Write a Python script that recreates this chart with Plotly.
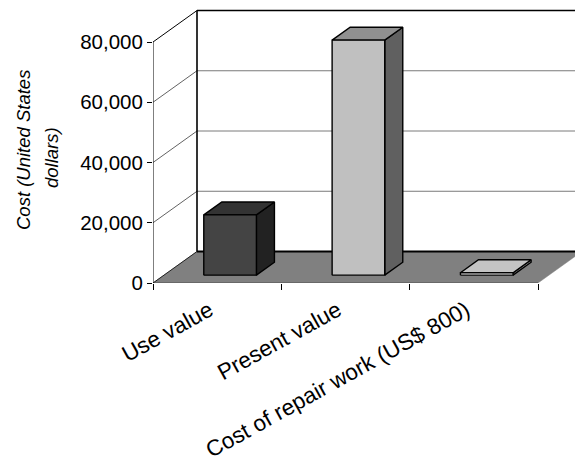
import plotly.graph_objects as go

# Chart data
categories = ["Use value", "Present value", "Cost of repair work (US$ 800)"]
costs = [20000, 78000, 800]
y_ticks = [0, 20000, 40000, 60000, 80000]
y_title_lines = ["Cost (United States", "dollars)"]

# Bar face colours (front, top, side)
front_colors = ["#444444", "#c0c0c0", "#f4f4f4"]
top_colors = ["#333333", "#909090", "#c4c4c4"]
side_colors = ["#222222", "#606060", "#909090"]

# Oblique projection: one unit of depth shifts by (DX, DY) in data units
W, H = 575, 474
M_L, M_R, M_T, M_B = 153, 0, 0, 191
PX_PER_CAT = 385 / 3
PX_PER_VAL = 241 / 80000
X_MAX = (W - M_L - M_R) / PX_PER_CAT
Y_MAX = (H - M_T - M_B) / PX_PER_VAL
DX = 44 / PX_PER_CAT
DY = 31.5 / PX_PER_VAL
N = len(categories)
TOP = y_ticks[-1]

# bar footprint within each category slot (front-plane units, depth fraction)
BAR_X0, BAR_W = 0.31, 0.41
D0, D1 = 0.25, 0.66


def proj(x, y, d):
    return x + d * DX, y + d * DY


def poly(points):
    xs = [p[0] for p in points] + [points[0][0]]
    ys = [p[1] for p in points] + [points[0][1]]
    return xs, ys


fig = go.Figure()


def add_line(p0, p1, color, width):
    fig.add_trace(go.Scatter(x=[p0[0], p1[0]], y=[p0[1], p1[1]], mode="lines",
                             line=dict(color=color, width=width),
                             hoverinfo="skip", showlegend=False))


def add_face(points, fill, edge="#000000", width=1.4):
    xs, ys = poly(points)
    fig.add_trace(go.Scatter(x=xs, y=ys, mode="lines", fill="toself",
                             fillcolor=fill, line=dict(color=edge, width=width),
                             hoverinfo="skip", showlegend=False))


# gridlines: side wall diagonals and back wall horizontals
for g in y_ticks[1:-1]:
    add_line(proj(0, g, 0), proj(0, g, 1), "#3a3a3a", 0.8)
    add_line(proj(0, g, 1), proj(N + 1, g, 1), "#7a7a7a", 1)

# floor
add_face([proj(0, 0, 0), proj(N, 0, 0), proj(N, 0, 1), proj(0, 0, 1)],
         "#808080", edge="#808080", width=0.5)
add_line(proj(0, 0, 0), proj(N, 0, 0), "#505050", 1)
add_line(proj(0, 0, 1), proj(N + 1, 0, 1), "#000000", 2.2)
add_line(proj(0, 0, 0), proj(0, 0, 1), "#202020", 1)

# walls outline
add_line(proj(0, 0, 0), proj(0, TOP, 0), "#000000", 1)
add_line(proj(0, TOP, 0), proj(0, TOP, 1), "#000000", 1)
add_line(proj(0, 0, 1), proj(0, TOP, 1), "#000000", 1.6)
add_line(proj(0, TOP, 1), proj(N + 1, TOP, 1), "#000000", 1.6)

# bars
for i, v in enumerate(costs):
    x0 = i + BAR_X0
    x1 = x0 + BAR_W
    add_face([proj(x1, 0, D0), proj(x1, 0, D1), proj(x1, v, D1), proj(x1, v, D0)],
             side_colors[i])
    add_face([proj(x0, v, D0), proj(x1, v, D0), proj(x1, v, D1), proj(x0, v, D1)],
             top_colors[i])
    add_face([proj(x0, 0, D0), proj(x1, 0, D0), proj(x1, v, D0), proj(x0, v, D0)],
             front_colors[i])

FONT = "Liberation Sans, Arial, sans-serif"
PLOT_W = W - M_L - M_R
PLOT_H = H - M_T - M_B

# y-axis title, one rotated annotation per line (pixel centres)
title_pos = [(23, 150), (51, 158)]
annotations = [
    dict(text=f"<i>{line}</i>", xref="paper", yref="paper",
         x=(px - M_L) / PLOT_W, y=(M_T + PLOT_H - py) / PLOT_H,
         xanchor="center", yanchor="middle", textangle=-90, showarrow=False,
         font=dict(size=18.5, family=FONT))
    for line, (px, py) in zip(y_title_lines, title_pos)
]

fig.update_layout(
    width=W, height=H, autosize=False,
    margin=dict(l=M_L, r=M_R, t=M_T, b=M_B),
    paper_bgcolor="white", plot_bgcolor="white",
    font=dict(family=FONT, color="black"),
    showlegend=False,
    xaxis=dict(range=[0, X_MAX], showgrid=False, zeroline=False, showline=False,
               tickmode="array", tickvals=[i + 0.44 for i in range(N)],
               ticktext=categories, ticks="", tickangle=-29,
               tickfont=dict(size=22.5, family=FONT), automargin=False,
               ticklabelstandoff=9,
               minor=dict(tickmode="linear", tick0=0, dtick=1, ticks="outside",
                          ticklen=6, tickcolor="black", tickwidth=1, showgrid=False),
               fixedrange=True),
    yaxis=dict(range=[0, Y_MAX], showgrid=False, zeroline=False, showline=False,
               tickmode="array", tickvals=y_ticks, tickformat=",",
               ticks="outside", ticklen=5, tickcolor="black", tickwidth=1,
               tickfont=dict(size=20.5, family=FONT), automargin=False,
               fixedrange=True),
    annotations=annotations,
)

fig.write_html("out.html")
